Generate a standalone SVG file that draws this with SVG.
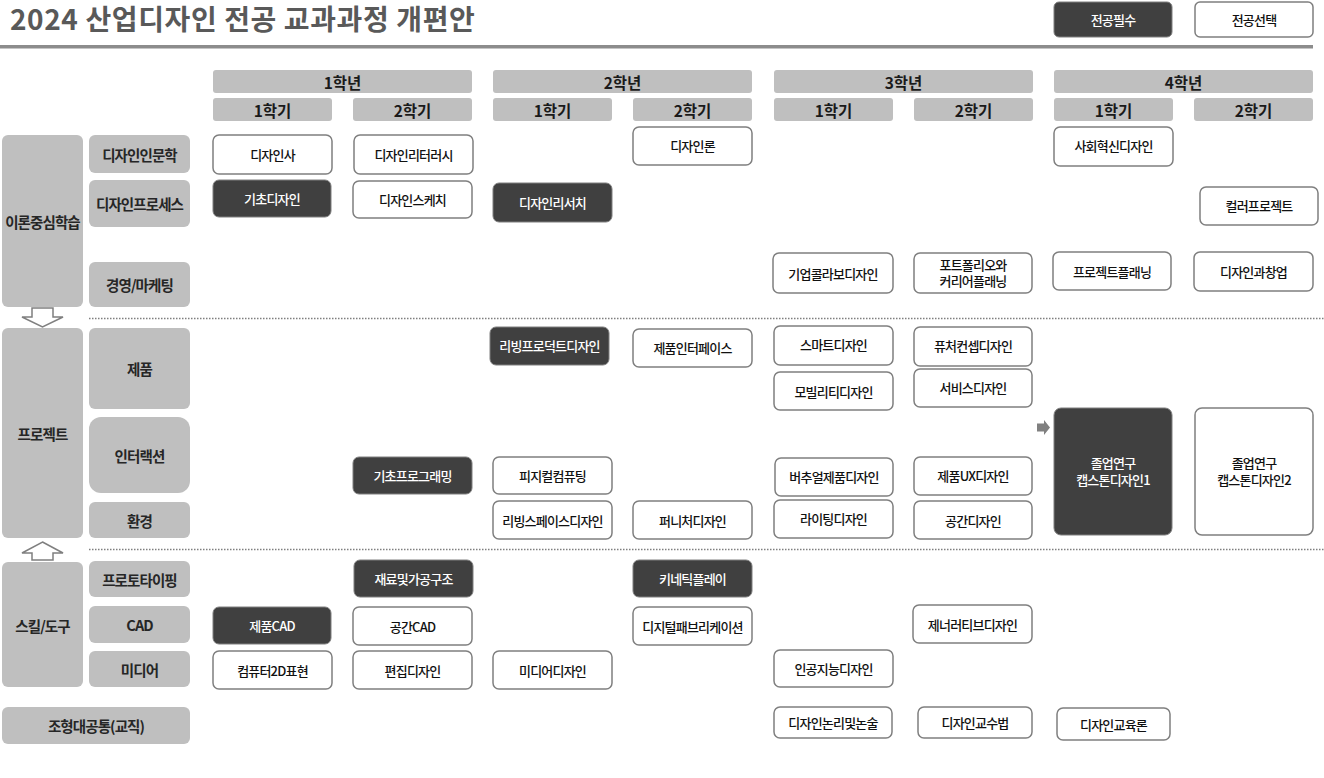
<svg xmlns="http://www.w3.org/2000/svg" width="1324" height="778" viewBox="0 0 1324 778">
<style>
text{font-family:"Malgun Gothic","Noto Sans CJK KR","Noto Sans",sans-serif;text-anchor:middle;dominant-baseline:central}
.title{font-size:28px;font-weight:700;fill:#595959;text-anchor:start;dominant-baseline:alphabetic;letter-spacing:0.6px}
.hdr rect{fill:#bfbfbf}
.hdr text{font-size:15.5px;font-weight:700;fill:#1a1a1a}
.cat rect{fill:#bfbfbf}
.cat text{font-size:14.5px;font-weight:700;fill:#262626;letter-spacing:-0.9px}
.c rect{fill:#ffffff;stroke:#7f7f7f;stroke-width:1.5}
.c text{font-size:13px;font-weight:500;fill:#111;letter-spacing:-0.8px}
.d rect{fill:#404040;stroke:#7f7f7f;stroke-width:1}
.d text{font-size:13px;font-weight:500;fill:#ffffff;letter-spacing:-0.8px}
.dot{stroke:#7f7f7f;stroke-width:1.5;stroke-dasharray:1.5 1.5;fill:none}
.harrow{fill:#ffffff;stroke:#7f7f7f;stroke-width:1.5}
</style>

<text class="title" x="10" y="30">2024 산업디자인 전공 교과과정 개편안</text>
<rect x="0" y="45" width="1313" height="3.5" fill="#8c8c8c"/>

<g id="legend">
  <g id="legend-required" class="d"><rect x="1054" y="2" width="118" height="35" rx="5"/><text x="1113" y="19.5">전공필수</text></g>
  <g id="legend-elective" class="c"><rect x="1195" y="2" width="118" height="35" rx="5"/><text x="1254" y="19.5">전공선택</text></g>
</g>

<g id="headers" class="hdr">
  <g id="y1"><rect x="213" y="70" width="259" height="23" rx="3"/><text x="342.5" y="81.5">1학년</text></g>
  <g id="y2"><rect x="493" y="70" width="259" height="23" rx="3"/><text x="622.5" y="81.5">2학년</text></g>
  <g id="y3"><rect x="774" y="70" width="259" height="23" rx="3"/><text x="903.5" y="81.5">3학년</text></g>
  <g id="y4"><rect x="1054" y="70" width="259" height="23" rx="3"/><text x="1183.5" y="81.5">4학년</text></g>
  <g id="y1s1"><rect x="213" y="98" width="119" height="23" rx="3"/><text x="272.5" y="109.5">1학기</text></g>
  <g id="y1s2"><rect x="353" y="98" width="119" height="23" rx="3"/><text x="412.5" y="109.5">2학기</text></g>
  <g id="y2s1"><rect x="493" y="98" width="119" height="23" rx="3"/><text x="552.5" y="109.5">1학기</text></g>
  <g id="y2s2"><rect x="633" y="98" width="119" height="23" rx="3"/><text x="692.5" y="109.5">2학기</text></g>
  <g id="y3s1"><rect x="774" y="98" width="119" height="23" rx="3"/><text x="833.5" y="109.5">1학기</text></g>
  <g id="y3s2"><rect x="914" y="98" width="119" height="23" rx="3"/><text x="973.5" y="109.5">2학기</text></g>
  <g id="y4s1"><rect x="1054" y="98" width="119" height="23" rx="3"/><text x="1113.5" y="109.5">1학기</text></g>
  <g id="y4s2"><rect x="1194" y="98" width="119" height="23" rx="3"/><text x="1253.5" y="109.5">2학기</text></g>
</g>

<g id="categories" class="cat">
  <g id="cat-theory"><rect x="2" y="135" width="81" height="172" rx="6"/><text x="42.5" y="221">이론중심학습</text></g>
  <g id="cat-humanities"><rect x="89" y="135" width="101" height="38" rx="6"/><text x="139.5" y="154">디자인인문학</text></g>
  <g id="cat-process"><rect x="89" y="180" width="101" height="47" rx="6"/><text x="139.5" y="203">디자인프로세스</text></g>
  <g id="cat-marketing"><rect x="89" y="262" width="101" height="45" rx="6"/><text x="139.5" y="284.5">경영/마케팅</text></g>
  <g id="cat-project"><rect x="2" y="328" width="81" height="210" rx="6"/><text x="42.5" y="433">프로젝트</text></g>
  <g id="cat-product"><rect x="89" y="328" width="101" height="81" rx="6"/><text x="139.5" y="368.5">제품</text></g>
  <g id="cat-interaction"><rect x="89" y="417" width="101" height="76" rx="12"/><text x="139.5" y="455">인터랙션</text></g>
  <g id="cat-environment"><rect x="89" y="502" width="101" height="36" rx="6"/><text x="139.5" y="520">환경</text></g>
  <g id="cat-skill"><rect x="2" y="562" width="81" height="125" rx="6"/><text x="42.5" y="625">스킬/도구</text></g>
  <g id="cat-proto"><rect x="89" y="561" width="101" height="36" rx="6"/><text x="139.5" y="579">프로토타이핑</text></g>
  <g id="cat-cad"><rect x="89" y="606" width="101" height="37" rx="6"/><text x="139.5" y="624.5">CAD</text></g>
  <g id="cat-media"><rect x="89" y="651" width="101" height="36" rx="6"/><text x="139.5" y="669">미디어</text></g>
  <g id="cat-common"><rect x="2" y="707" width="188" height="37" rx="6"/><text x="96" y="725.5">조형대공통(교직)</text></g>
</g>

<g id="connectors">
  <line class="dot" x1="89" y1="318.5" x2="1324" y2="318.5"/>
  <line class="dot" x1="89" y1="549.5" x2="1324" y2="549.5"/>
  <polygon class="harrow" points="32,308 53,308 53,317 63,317 42.5,327 22,317 32,317"/>
  <polygon class="harrow" points="42.5,542 63,553 53,553 53,560 32,560 32,553 22,553"/>
  <polygon fill="#808080" points="1037,423.5 1044,423.5 1044,420 1050,427.5 1044,435 1044,431.5 1037,431.5"/>
</g>

<g id="courses">
  <g id="n-designhistory" class="c"><rect x="213" y="135" width="119" height="39" rx="6"/><text x="272.5" y="154.5">디자인사</text></g>
  <g id="n-literacy" class="c"><rect x="354" y="135" width="119" height="39" rx="6"/><text x="413.5" y="154.5">디자인리터러시</text></g>
  <g id="n-theory" class="c"><rect x="633" y="127" width="119" height="38" rx="6"/><text x="692.5" y="145">디자인론</text></g>
  <g id="n-social" class="c"><rect x="1054" y="127" width="119" height="39" rx="6"/><text x="1113.5" y="145.5">사회혁신디자인</text></g>
  <g id="n-basicdesign" class="d"><rect x="213" y="180" width="118" height="37" rx="6"/><text x="272" y="198">기초디자인</text></g>
  <g id="n-sketch" class="c"><rect x="353" y="181" width="119" height="37" rx="6"/><text x="412.5" y="199">디자인스케치</text></g>
  <g id="n-research" class="d"><rect x="493" y="183" width="119" height="39" rx="6"/><text x="552.5" y="202">디자인리서치</text></g>
  <g id="n-color" class="c"><rect x="1200" y="187" width="118" height="38" rx="6"/><text x="1259" y="205.5">컬러프로젝트</text></g>
  <g id="n-collab" class="c"><rect x="773" y="253" width="120" height="40" rx="6"/><text x="833" y="273">기업콜라보디자인</text></g>
  <g id="n-portfolio" class="c"><rect x="914" y="253" width="118" height="40" rx="6"/><text x="973" y="264">포트폴리오와</text><text x="973" y="280.5">커리어플래닝</text></g>
  <g id="n-planning" class="c"><rect x="1053" y="252" width="118" height="38" rx="6"/><text x="1112" y="271">프로젝트플래닝</text></g>
  <g id="n-startup" class="c"><rect x="1194" y="252" width="119" height="39" rx="6"/><text x="1253.5" y="271">디자인과창업</text></g>

  <g id="n-livingproduct" class="d"><rect x="490" y="327" width="119" height="38" rx="6"/><text x="549.5" y="345">리빙프로덕트디자인</text></g>
  <g id="n-interface" class="c"><rect x="633" y="329" width="119" height="38" rx="6"/><text x="692.5" y="347.5">제품인터페이스</text></g>
  <g id="n-smart" class="c"><rect x="774" y="326" width="119" height="39" rx="6"/><text x="833.5" y="344">스마트디자인</text></g>
  <g id="n-future" class="c"><rect x="914" y="327" width="118" height="39" rx="6"/><text x="973" y="345.5">퓨처컨셉디자인</text></g>
  <g id="n-mobility" class="c"><rect x="774" y="372" width="119" height="38" rx="6"/><text x="833.5" y="391">모빌리티디자인</text></g>
  <g id="n-service" class="c"><rect x="914" y="369" width="118" height="38" rx="6"/><text x="973" y="387">서비스디자인</text></g>
  <g id="n-programming" class="d"><rect x="353" y="457" width="119" height="37" rx="6"/><text x="412.5" y="475.5">기초프로그래밍</text></g>
  <g id="n-physical" class="c"><rect x="493" y="457" width="119" height="37" rx="6"/><text x="552.5" y="475.5">피지컬컴퓨팅</text></g>
  <g id="n-virtual" class="c"><rect x="775" y="458" width="118" height="38" rx="6"/><text x="834" y="476.5">버추얼제품디자인</text></g>
  <g id="n-ux" class="c"><rect x="914" y="457" width="118" height="38" rx="6"/><text x="973" y="475.5">제품UX디자인</text></g>
  <g id="n-livingspace" class="c"><rect x="493" y="501" width="119" height="38" rx="6"/><text x="552.5" y="520">리빙스페이스디자인</text></g>
  <g id="n-furniture" class="c"><rect x="633" y="501" width="119" height="38" rx="6"/><text x="692.5" y="520">퍼니처디자인</text></g>
  <g id="n-lighting" class="c"><rect x="774" y="500" width="119" height="38" rx="6"/><text x="833.5" y="518.5">라이팅디자인</text></g>
  <g id="n-space" class="c"><rect x="914" y="501" width="118" height="38" rx="6"/><text x="973" y="520">공간디자인</text></g>
  <g id="n-capstone1" class="d"><rect x="1054" y="408" width="118" height="127" rx="7"/><text x="1113" y="462.5">졸업연구</text><text x="1113" y="479">캡스톤디자인1</text></g>
  <g id="n-capstone2" class="c"><rect x="1195" y="408" width="118" height="127" rx="7"/><text x="1254" y="462.5">졸업연구</text><text x="1254" y="479">캡스톤디자인2</text></g>

  <g id="n-material" class="d"><rect x="354" y="560" width="119" height="37" rx="6"/><text x="413.5" y="578.5">재료및가공구조</text></g>
  <g id="n-kinetic" class="d"><rect x="633" y="560" width="119" height="37" rx="6"/><text x="692.5" y="578.5">키네틱플레이</text></g>
  <g id="n-productcad" class="d"><rect x="213" y="607" width="118" height="37" rx="6"/><text x="272" y="625.5">제품CAD</text></g>
  <g id="n-spacecad" class="c"><rect x="353" y="607" width="119" height="38" rx="6"/><text x="412.5" y="626">공간CAD</text></g>
  <g id="n-fabrication" class="c"><rect x="633" y="607" width="119" height="38" rx="6"/><text x="692.5" y="626">디지털패브리케이션</text></g>
  <g id="n-generative" class="c"><rect x="913" y="605" width="119" height="38" rx="6"/><text x="972.5" y="624">제너러티브디자인</text></g>
  <g id="n-computer2d" class="c"><rect x="213" y="651" width="119" height="38" rx="6"/><text x="272.5" y="670">컴퓨터2D표현</text></g>
  <g id="n-editorial" class="c"><rect x="353" y="651" width="119" height="38" rx="6"/><text x="412.5" y="670">편집디자인</text></g>
  <g id="n-mediadesign" class="c"><rect x="493" y="651" width="119" height="38" rx="6"/><text x="552.5" y="670">미디어디자인</text></g>
  <g id="n-ai" class="c"><rect x="774" y="650" width="119" height="37" rx="6"/><text x="833.5" y="668.5">인공지능디자인</text></g>
  <g id="n-logic" class="c"><rect x="774" y="707" width="118" height="31" rx="6"/><text x="833" y="722.5">디자인논리및논술</text></g>
  <g id="n-teaching" class="c"><rect x="918" y="707" width="114" height="31" rx="6"/><text x="975" y="722.5">디자인교수법</text></g>
  <g id="n-education" class="c"><rect x="1057" y="708" width="113" height="32" rx="6"/><text x="1113.5" y="724">디자인교육론</text></g>
</g>
</svg>
